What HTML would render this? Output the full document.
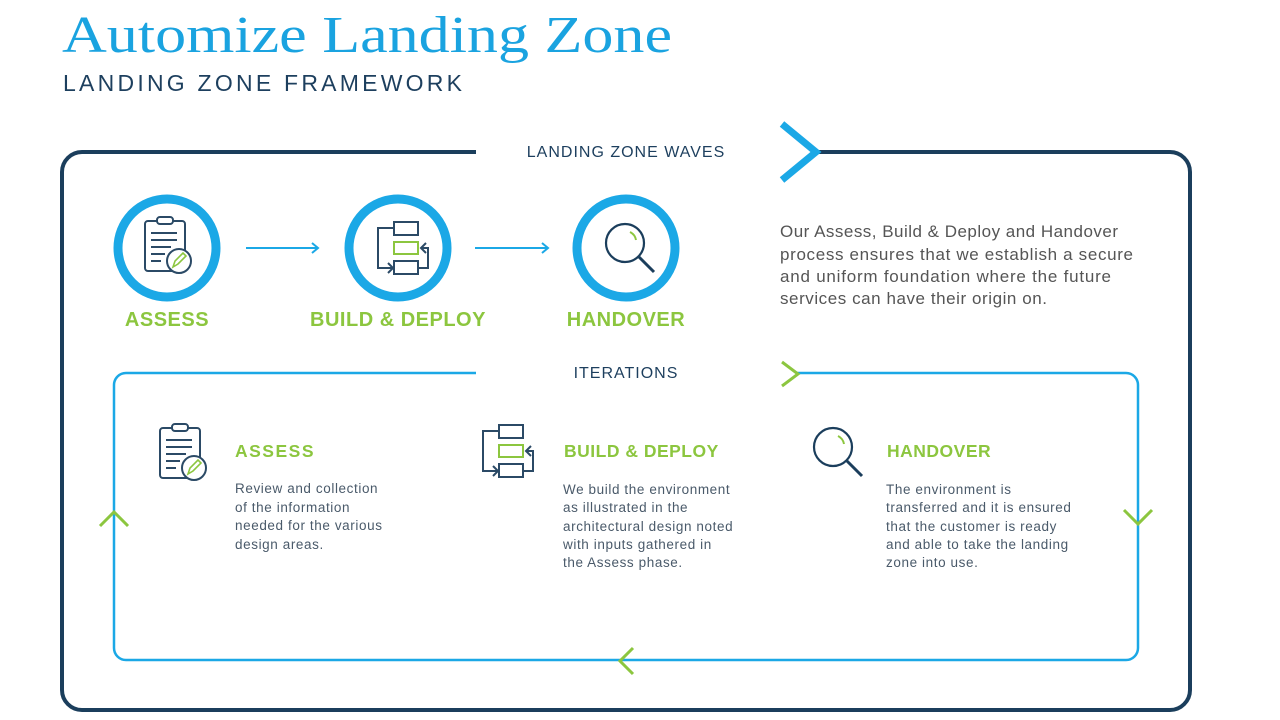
<!DOCTYPE html>
<html><head><meta charset="utf-8"><style>
html,body{margin:0;padding:0;background:#fff;width:1280px;height:720px;overflow:hidden}
svg{display:block}
</style></head><body>
<svg width="1280" height="720" viewBox="0 0 1280 720" xmlns="http://www.w3.org/2000/svg">
<defs>
<g id="clip">
 <rect x="-20" y="-24" width="40" height="50" rx="3" fill="none" stroke="#2b4a66" stroke-width="2"/>
 <rect x="-8" y="-28" width="16" height="7" rx="3" fill="#fff" stroke="#2b4a66" stroke-width="2"/>
 <path d="M-14 -12H12M-14 -5H12M-14 2H6M-14 9H0M-14 16H-4" stroke="#2b4a66" stroke-width="2"/>
 <circle cx="14" cy="16" r="12" fill="#fff" stroke="#2b4a66" stroke-width="2"/>
 <path d="M8 22l2-6 8-8 3 3-8 8z" fill="none" stroke="#8cc63f" stroke-width="1.6"/>
</g>
<g id="flow">
 <rect x="-4" y="-26" width="24" height="13" fill="none" stroke="#2b4a66" stroke-width="2"/>
 <rect x="-4" y="-6" width="24" height="12" fill="none" stroke="#8cc63f" stroke-width="2"/>
 <rect x="-4" y="13" width="24" height="13" fill="none" stroke="#2b4a66" stroke-width="2"/>
 <path d="M-4 -20H-20V20H-6M-10 15l5 5-5 5" fill="none" stroke="#2b4a66" stroke-width="2"/>
 <path d="M20 20H30V0H24M28 -5l-5 5 5 5" fill="none" stroke="#2b4a66" stroke-width="2"/>
</g>
<g id="mag">
 <circle cx="-5" cy="-5" r="19" fill="none" stroke="#1b3e5c" stroke-width="2.2"/>
 <path d="M9 9L24 24" stroke="#1b3e5c" stroke-width="3"/>
 <path d="M0 -16a11 11 0 0 1 6 8" fill="none" stroke="#8cc63f" stroke-width="2"/>
</g>
</defs>
<text x="62" y="52" font-family="Liberation Serif, serif" font-size="52" fill="#1aa3e0" textLength="610" lengthAdjust="spacingAndGlyphs">Automize Landing Zone</text>
<text x="63" y="91" font-family="Liberation Sans, sans-serif" font-size="23" fill="#1d3f5e" textLength="399">LANDING ZONE FRAMEWORK</text>

<path d="M476 152H82a20 20 0 0 0-20 20V690a20 20 0 0 0 20 20H1170a20 20 0 0 0 20-20V172a20 20 0 0 0-20-20H812" fill="none" stroke="#1b3e5c" stroke-width="4"/>
<path d="M782 124L816 152L782 180" fill="none" stroke="#1ba8e6" stroke-width="7"/>
<text x="626" y="157" text-anchor="middle" font-family="Liberation Sans, sans-serif" font-size="16" letter-spacing="1" fill="#1d3f5e">LANDING ZONE WAVES</text>

<g fill="none" stroke="#1ba8e6" stroke-width="9">
<circle cx="167" cy="248" r="49"/><circle cx="398" cy="248" r="49"/><circle cx="626" cy="248" r="49"/>
</g>
<use href="#clip" x="165" y="245"/>
<use href="#flow" x="398" y="248"/>
<use href="#mag" x="630" y="248"/>
<g stroke="#1ba8e6" stroke-width="2" fill="none">
<path d="M246 248H318M312 243l6 5-6 5"/><path d="M475 248H548M542 243l6 5-6 5"/>
</g>
<g font-family="Liberation Sans, sans-serif" font-weight="bold" font-size="20" fill="#8cc63f" letter-spacing="0.5">
<text x="167" y="326" text-anchor="middle">ASSESS</text>
<text x="398" y="326" text-anchor="middle">BUILD &amp; DEPLOY</text>
<text x="626" y="326" text-anchor="middle">HANDOVER</text>
</g>
<g font-family="Liberation Sans, sans-serif" font-size="17" fill="#555">
<text x="780" y="237" textLength="338">Our Assess, Build &amp; Deploy and Handover</text>
<text x="780" y="260" textLength="353">process ensures that we establish a secure</text>
<text x="780" y="282" textLength="331">and uniform foundation where the future</text>
<text x="780" y="304" textLength="267">services can have their origin on.</text>
</g>

<path d="M476 373H126a12 12 0 0 0-12 12V648a12 12 0 0 0 12 12H1126a12 12 0 0 0 12-12V385a12 12 0 0 0-12-12H796" fill="none" stroke="#1ba8e6" stroke-width="2.5"/>
<g fill="none" stroke="#8cc63f" stroke-width="3">
<path d="M782 362L798 374L782 386"/>
<path d="M100 526L114 512L128 526"/>
<path d="M1124 510L1138 524L1152 510"/>
<path d="M633 648L620 661L633 674"/>
</g>
<text x="626" y="378" text-anchor="middle" font-family="Liberation Sans, sans-serif" font-size="16" letter-spacing="1" fill="#1d3f5e">ITERATIONS</text>

<use href="#clip" x="180" y="452"/>
<use href="#flow" x="503" y="451"/>
<use href="#mag" x="838" y="452"/>
<g font-family="Liberation Sans, sans-serif" font-weight="bold" font-size="17.5" fill="#8cc63f" letter-spacing="0.5">
<text x="235" y="457" letter-spacing="1.5">ASSESS</text>
<text x="564" y="457">BUILD &amp; DEPLOY</text>
<text x="887" y="457">HANDOVER</text>
</g>
<g font-family="Liberation Sans, sans-serif" font-size="13.5" fill="#4a5a6a" letter-spacing="0.6">
<text x="235" y="493">Review and collection</text>
<text x="235" y="512">of the information</text>
<text x="235" y="530">needed for the various</text>
<text x="235" y="549">design areas.</text>
<text x="563" y="494">We build the environment</text>
<text x="563" y="512">as illustrated in the</text>
<text x="563" y="531">architectural design noted</text>
<text x="563" y="549">with inputs gathered in</text>
<text x="563" y="567">the Assess phase.</text>
<text x="886" y="494">The environment is</text>
<text x="886" y="512">transferred and it is ensured</text>
<text x="886" y="531">that the customer is ready</text>
<text x="886" y="549">and able to take the landing</text>
<text x="886" y="567">zone into use.</text>
</g>
</svg>
</body></html>
